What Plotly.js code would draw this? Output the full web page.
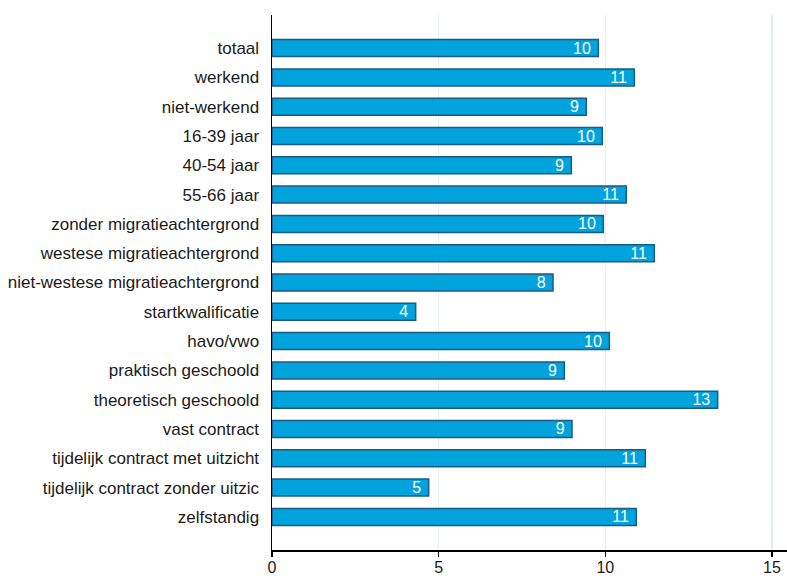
<!DOCTYPE html>
<html>
<head>
<meta charset="utf-8">
<script src="https://cdn.plot.ly/plotly-3.0.1.min.js"></script>
<style>
  html, body { margin: 0; padding: 0; background: #ffffff; }
  #chart { width: 787px; height: 576px; }
</style>
</head>
<body>
<div id="chart"></div>
<script>
// Groups, top to bottom
const categories = [
  "totaal",
  "werkend",
  "niet-werkend",
  "16-39 jaar",
  "40-54 jaar",
  "55-66 jaar",
  "zonder migratieachtergrond",
  "westese migratieachtergrond",
  "niet-westese migratieachtergrond",
  "startkwalificatie",
  "havo/vwo",
  "praktisch geschoold",
  "theoretisch geschoold",
  "vast contract",
  "tijdelijk contract met uitzicht",
  "tijdelijk contract zonder uitzic",
  "zelfstandig"
];

// Value per group
const values = [
  9.79, 10.87, 9.43, 9.91, 8.98, 10.63, 9.94, 11.47, 8.43,
  4.31, 10.12, 8.77, 13.37, 9.00, 11.20, 4.70, 10.93
];

const xTicks = [0, 5, 10, 15];

const FONT = "'Liberation Sans', Arial, Helvetica, sans-serif";

const trace = {
  type: "bar",
  orientation: "h",
  y: categories,
  x: values,
  width: 0.58,
  marker: {
    color: "#00a3dc",
    line: { color: "#1b5a86", width: 1.5 }
  },
  texttemplate: "%{x:.0f} ",
  textposition: "inside",
  insidetextanchor: "end",
  textangle: 0,
  constraintext: "none",
  textfont: { family: FONT, size: 16, color: "#ffffff" },
  hoverinfo: "skip",
  cliponaxis: false
};

const layout = {
  width: 787,
  height: 576,
  margin: { l: 272, r: 0, t: 15, b: 26, pad: 0 },
  paper_bgcolor: "#ffffff",
  plot_bgcolor: "#ffffff",
  showlegend: false,
  font: { family: FONT, size: 16, color: "#1a1a1a" },
  xaxis: {
    range: [0, 15.45],
    tickvals: xTicks,
    ticktext: xTicks.map(String),
    showgrid: true,
    gridcolor: "#e4edf1",
    gridwidth: 1.5,
    zeroline: false,
    showline: true,
    linecolor: "#000000",
    linewidth: 1.5,
    ticks: "outside",
    ticklen: 5,
    tickwidth: 1.5,
    tickcolor: "#000000",
    ticklabelstandoff: -3,
    tickfont: { family: FONT, size: 16, color: "#1a1a1a" },
    fixedrange: true
  },
  yaxis: {
    type: "category",
    range: [17.13, -1.13],
    showgrid: false,
    zeroline: false,
    showline: true,
    linecolor: "#000000",
    linewidth: 1.5,
    ticks: "",
    ticklabelstandoff: 8,
    tickfont: { family: FONT, size: 17, color: "#1a1a1a" },
    fixedrange: true
  },
  bargap: 0.42
};

Plotly.newPlot("chart", [trace], layout, { displayModeBar: false, staticPlot: true });
</script>
</body>
</html>
